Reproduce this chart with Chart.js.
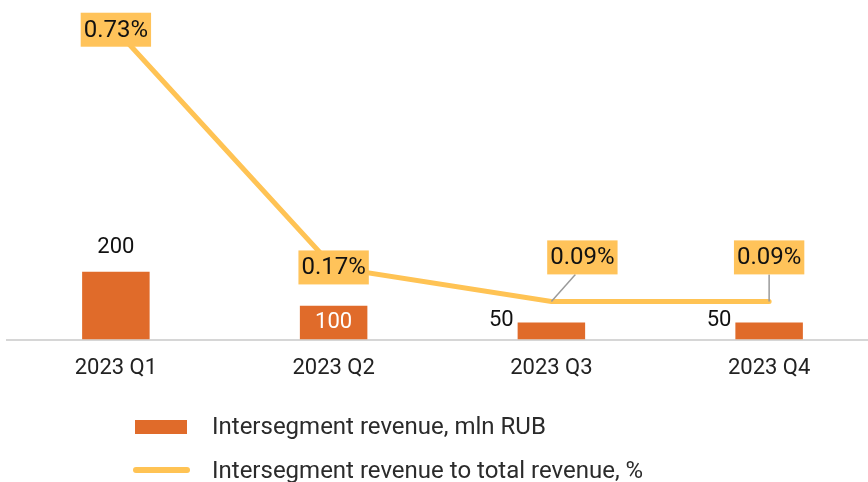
<!DOCTYPE html>
<html>
<head>
<meta charset="utf-8">
<script src="https://cdn.jsdelivr.net/npm/chart.js@4.4.1/dist/chart.umd.min.js"></script>
<style>
  body { margin: 0; overflow: hidden; background: #fff; font-family: Roboto, sans-serif; }
  #wrap { position: relative; width: 880px; height: 407px; }
  .legend { position: absolute; left: 0; top: 0; width: 868px; height: 482px; pointer-events: none; }
  .item { position: absolute; left: 212px; font-size: 24px; color: #2b2b2b; line-height: 28px; }
  .swatch { position: absolute; }
</style>
</head>
<body>
<div id="wrap"><canvas id="revChart"></canvas></div>
<div class="legend" id="legend"></div>
<script>
// Data
const quarters = ['2023 Q1', '2023 Q2', '2023 Q3', '2023 Q4'];
const revenueMln = [200, 100, 50, 50];
const shareOfTotal = [0.73, 0.17, 0.09, 0.09];
const seriesNames = ['Intersegment revenue, mln RUB', 'Intersegment revenue to total revenue, %'];

const barColor = '#E06B2A';
const lineColor = '#FFC354';

// Draw value labels (no datalabels plugin available offline)
const valueLabels = {
  id: 'valueLabels',
  afterDatasetsDraw(chart) {
    const ctx = chart.ctx;
    const barMeta = chart.getDatasetMeta(1);
    const lineMeta = chart.getDatasetMeta(0);
    const barPos = ['top', 'inside', 'left', 'left'];
    const boxOffset = [[0, 0], [0, 0], [31, -44], [0, -44]];

    ctx.save();
    ctx.textBaseline = 'middle';
    ctx.font = '22px Roboto';
    barMeta.data.forEach((bar, i) => {
      const txt = String(revenueMln[i]);
      if (barPos[i] === 'top') {
        ctx.fillStyle = '#111';
        ctx.textAlign = 'center';
        ctx.fillText(txt, bar.x, bar.y - 24);
      } else if (barPos[i] === 'inside') {
        ctx.fillStyle = '#fff';
        ctx.textAlign = 'center';
        ctx.fillText(txt, bar.x, bar.y + 17);
      } else {
        ctx.fillStyle = '#111';
        ctx.textAlign = 'right';
        ctx.fillText(txt, bar.x - bar.width / 2 - 4, bar.y - 2);
      }
    });

    ctx.font = '24px Roboto';
    ctx.textAlign = 'center';
    lineMeta.data.forEach((pt, i) => {
      const txt = shareOfTotal[i].toFixed(2) + '%';
      const cx = pt.x + boxOffset[i][0];
      const cy = pt.y + boxOffset[i][1];
      const w = ctx.measureText(txt).width + 6;
      const h = 34;
      if (boxOffset[i][1] !== 0) {
        // leader line
        ctx.strokeStyle = '#9a9a9a';
        ctx.lineWidth = 1.5;
        ctx.beginPath();
        ctx.moveTo(pt.x, pt.y);
        ctx.lineTo(boxOffset[i][0] ? cx - 7 : cx, cy + h / 2);
        ctx.stroke();
      }
      ctx.fillStyle = '#FFC35A';
      ctx.fillRect(cx - w / 2, cy - h / 2, w, h);
      ctx.fillStyle = '#111';
      ctx.fillText(txt, cx, cy + 1);
    });
    ctx.restore();
  }
};

new Chart(document.getElementById('revChart'), {
  data: {
    labels: quarters,
    datasets: [{
      type: 'line',
      label: seriesNames[1],
      data: shareOfTotal,
      yAxisID: 'y1',
      borderColor: lineColor,
      borderWidth: 5,
      borderCapStyle: 'round',
      pointRadius: 0,
      tension: 0,
      order: 0
    }, {
      type: 'bar',
      label: seriesNames[0],
      data: revenueMln,
      yAxisID: 'y',
      backgroundColor: barColor,
      barPercentage: 0.31,
      categoryPercentage: 1,
      order: 1
    }]
  },
  options: {
    responsive: true,
    maintainAspectRatio: false,
    animation: false,
    layout: { padding: { left: 7, right: 2, top: 0, bottom: 9 } },
    plugins: {
      legend: { display: false },
      tooltip: { enabled: false }
    },
    scales: {
      x: {
        grid: { display: false, drawTicks: false },
        border: { display: true, color: '#d6d6d6', width: 2 },
        ticks: { color: '#222', font: { family: 'Roboto', size: 22 }, padding: 16 }
      },
      y: { display: false, min: 0, max: 1000 },
      y1: { display: false, min: 0, max: 0.8 }
    }
  },
  plugins: [valueLabels]
});

// HTML legend
const legend = document.getElementById('legend');
legend.innerHTML =
  '<div class="swatch" style="left:135px;top:420px;width:52px;height:14px;background:' + barColor + '"></div>' +
  '<div class="item" style="top:412px">' + seriesNames[0] + '</div>' +
  '<div class="swatch" style="left:133px;top:467px;width:57px;height:6px;border-radius:3px;background:' + lineColor + '"></div>' +
  '<div class="item" style="top:456px">' + seriesNames[1] + '</div>';
</script>
</body>
</html>
